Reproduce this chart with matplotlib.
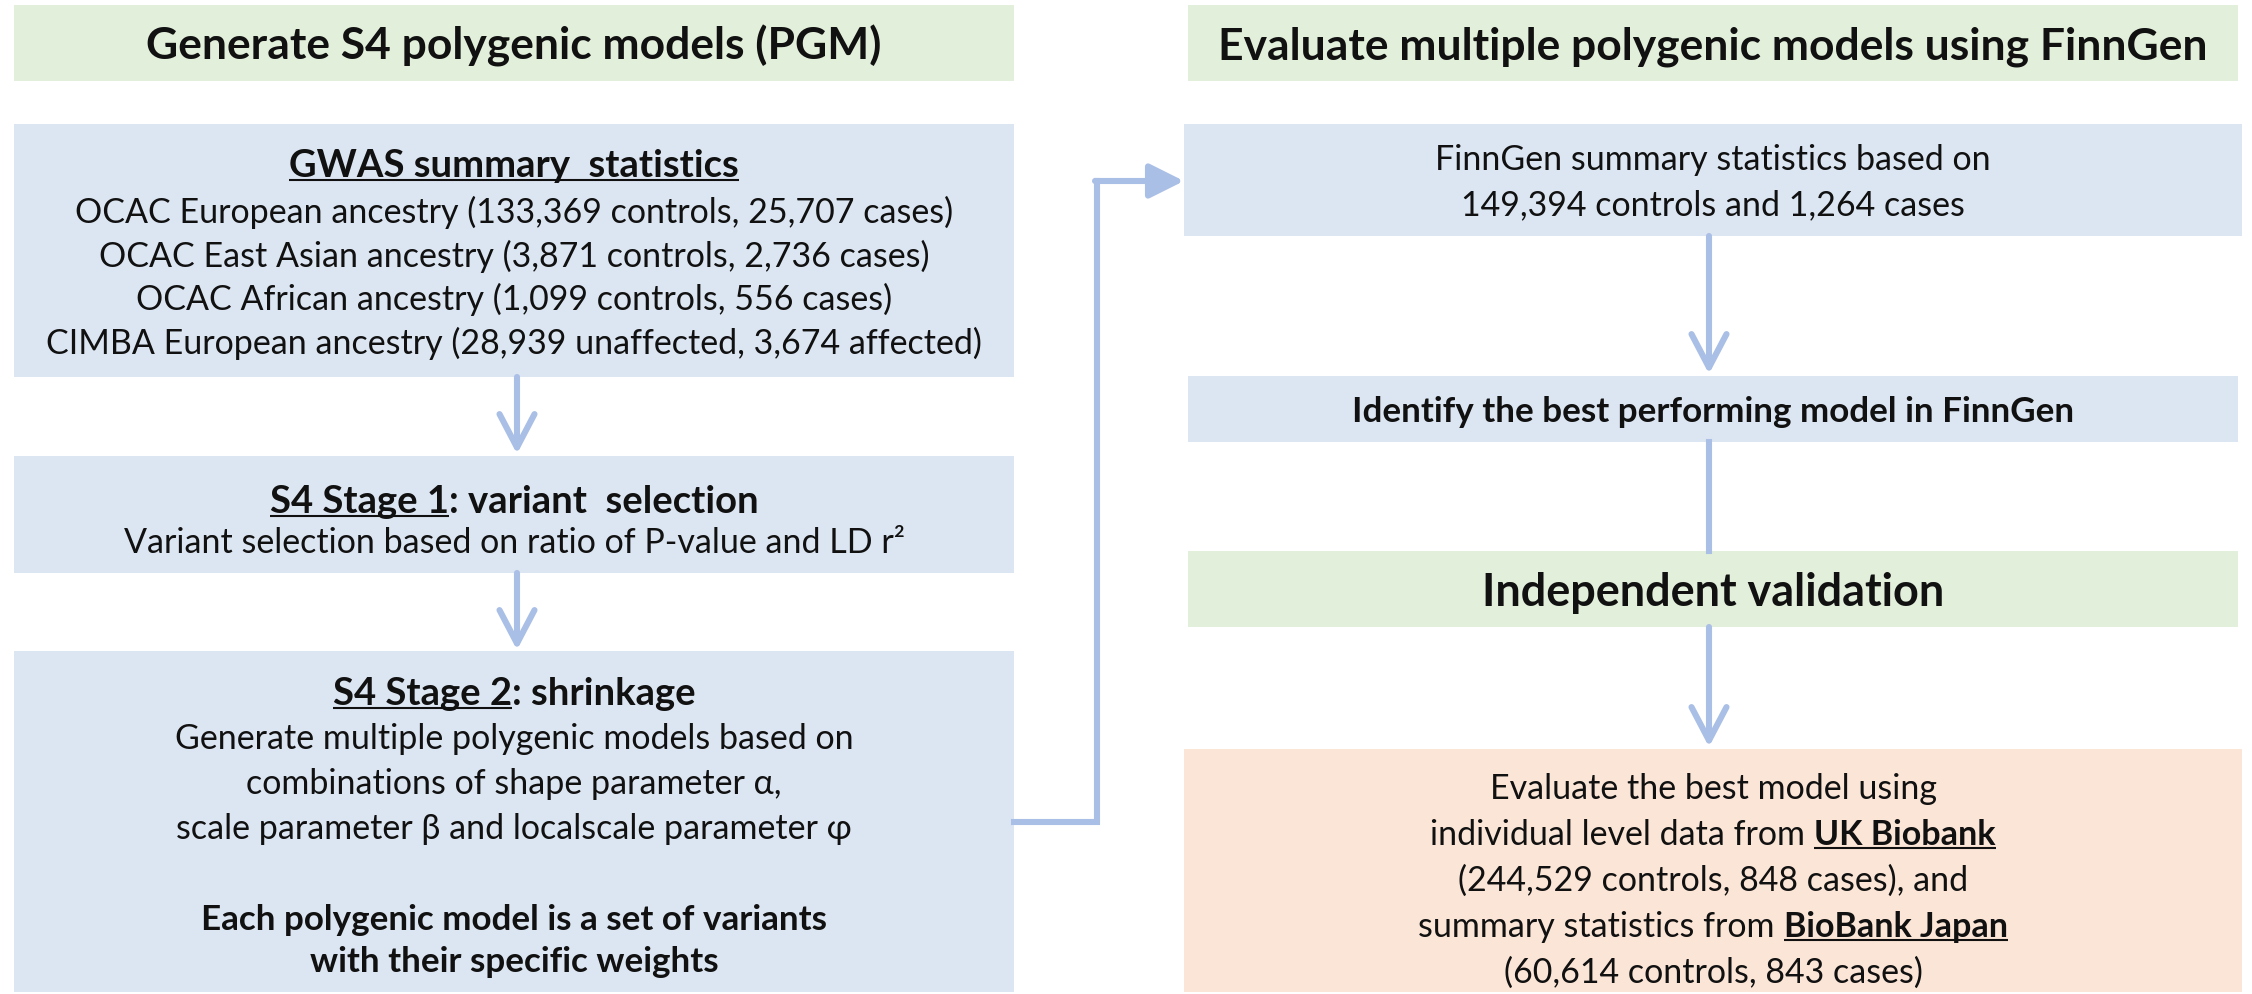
import matplotlib
matplotlib.use("Agg")
import matplotlib.pyplot as plt
from matplotlib.patches import Rectangle

# ---------------- text content (data) ----------------
left_title = "Generate S4 polygenic models (PGM)"
right_title = "Evaluate multiple polygenic models using FinnGen"
gwas_header = "GWAS summary  statistics"
gwas_lines = [
    "OCAC European ancestry (133,369 controls, 25,707 cases)",
    "OCAC East Asian ancestry (3,871 controls, 2,736 cases)",
    "OCAC African ancestry (1,099 controls, 556 cases)",
    "CIMBA European ancestry (28,939 unaffected, 3,674 affected)",
]
stage1_header = [("S4 Stage 1", True, True), (": variant  selection", True, False)]
stage1_text = "Variant selection based on ratio of P-value and LD r\u00b2"
stage2_header = [("S4 Stage 2", True, True), (": shrinkage", True, False)]
stage2_lines = [
    "Generate multiple polygenic models based on",
    "combinations of shape parameter \u03b1,",
    "scale parameter \u03b2 and localscale parameter \u03c6",
]
stage2_bold = ["Each polygenic model is a set of variants", "with their specific weights"]
finngen_lines = ["FinnGen summary statistics based on", "149,394 controls and 1,264 cases"]
identify_text = "Identify the best performing model in FinnGen"
validation_title = "Independent validation"
validation_lines = [
    [("Evaluate the best model using", False, False)],
    [("individual level data from ", False, False), ("UK Biobank", True, True)],
    [("(244,529 controls, 848 cases), and", False, False)],
    [("summary statistics from ", False, False), ("BioBank Japan", True, True)],
    [("(60,614 controls, 843 cases)", False, False)],
]

# ---------------- styles ----------------
FONT = ["Lato", "DejaVu Sans"]
plt.rcParams["font.family"] = FONT
BLUE = "#DCE6F2"
GREEN = "#E2EFDA"
ORANGE = "#FBE5D6"
ARROW = "#A9BFE5"
TXT = "#111111"
LW = 4.4

W, H = 2252, 995
fig = plt.figure(figsize=(W / 100, H / 100), dpi=100)
ax = fig.add_axes([0, 0, 1, 1])
ax.set_xlim(0, W)
ax.set_ylim(H, 0)
ax.axis("off")
renderer = fig.canvas.get_renderer()


def text_width(s, size, bold):
    tt = ax.text(0, 0, s, fontsize=size, fontweight="bold" if bold else "normal")
    e = tt.get_window_extent(renderer).width
    tt.remove()
    return e


def advance(s, size, bold):
    return text_width("|" + s + "|", size, bold) - text_width("||", size, bold)


def fit_size(pairs, bold):
    # font size giving the reference's rendered widths (pixels)
    base = 20.0
    vals = [base * target / advance(s, base, bold) for s, target in pairs]
    return sum(vals) / len(vals)


def joined(segs):
    return "".join(t for t, b, u in segs)


BODY = fit_size([(gwas_lines[0], 878)], False)
BOLD = fit_size([(identify_text, 726), (stage2_bold[0], 622)], True)
SUB = fit_size([(gwas_header, 442), (joined(stage1_header), 491),
                (joined(stage2_header), 368)], True)
HEAD = fit_size([(left_title, 730), (right_title, 993)], True)
VHEAD = fit_size([(validation_title, 464)], True)


def box(x0, y0, x1, y1, color):
    ax.add_patch(Rectangle((x0, y0), x1 - x0, y1 - y0, facecolor=color,
                           edgecolor="none", zorder=1))


def rich_line(cx, yc, segs, size):
    base = yc + 0.5 * 0.72 * size * 100 / 72
    widths = [advance(t, size, b) for t, b, u in segs]
    x = cx - sum(widths) / 2
    for (t, b, u), wd in zip(segs, widths):
        ax.text(x, base, t, fontsize=size, fontweight="bold" if b else "normal",
                ha="left", va="baseline", color=TXT, zorder=3)
        if u:
            ax.plot([x, x + wd], [base + 4, base + 4], color=TXT, lw=1.5,
                    solid_capstyle="butt", zorder=3)
        x += wd


def line(cx, yc, text, size, bold=False, underline=False):
    rich_line(cx, yc, [(text, bold, underline)], size)


def arrow(x, y0, y1, head=True):
    if head:
        ax.annotate("", xy=(x, y1), xytext=(x, y0),
                    arrowprops=dict(arrowstyle="->,head_length=0.8,head_width=0.42",
                                    lw=LW, color=ARROW, mutation_scale=30,
                                    shrinkA=0, shrinkB=0), zorder=2)
    else:
        ax.plot([x, x], [y0, y1], color=ARROW, lw=LW, zorder=2)


LX0, LX1 = 14, 1014
RX0, RX1 = 1188, 2238
LC = (LX0 + LX1) / 2
RC = (RX0 + RX1) / 2

# ---------------- left column ----------------
box(LX0, 6, LX1, 82, GREEN)
line(LC, 44, left_title, HEAD, bold=True)

box(LX0, 125, LX1, 378, BLUE)
line(LC, 163, gwas_header, SUB, bold=True, underline=True)
for i, t in enumerate(gwas_lines):
    line(LC, 211 + i * 43.5, t, BODY)

arrow(517, 378, 455)

box(LX0, 457, LX1, 574, BLUE)
rich_line(LC, 499, stage1_header, SUB)
line(LC, 541, stage1_text, BODY)

arrow(517, 574, 651)

box(LX0, 652, LX1, 993, BLUE)
rich_line(LC, 691, stage2_header, SUB)
for i, t in enumerate(stage2_lines):
    line(LC, 737 + i * 45, t, BODY)
for i, t in enumerate(stage2_bold):
    line(LC, 917 + i * 42, t, BOLD, bold=True)

# ---------------- connector ----------------
ax.plot([LX1, 1097, 1097], [823, 823, 182], color=ARROW, lw=LW,
        solid_joinstyle="miter", zorder=2)
ax.annotate("", xy=(1184, 182), xytext=(1095, 182),
            arrowprops=dict(arrowstyle="-|>,head_length=0.7,head_width=0.35",
                            lw=LW, color=ARROW, mutation_scale=30,
                            shrinkA=0, shrinkB=0), zorder=2)

# ---------------- right column ----------------
box(RX0, 6, RX1, 82, GREEN)
line(RC, 44, right_title, HEAD, bold=True)

box(1184, 125, 2242, 237, BLUE)
for i, t in enumerate(finngen_lines):
    line(RC, 158 + i * 45, t, BODY)

arrow(1709, 237, 375)

box(RX0, 377, RX1, 443, BLUE)
line(RC, 409, identify_text, BOLD, bold=True)

arrow(1709, 443, 552, head=False)

box(RX0, 552, RX1, 628, GREEN)
line(RC, 590, validation_title, VHEAD, bold=True)

arrow(1709, 628, 748)

box(1184, 750, 2242, 993, ORANGE)
for i, segs in enumerate(validation_lines):
    rich_line(RC, 787 + i * 46, segs, BODY)

fig.savefig("out.png", dpi=100)
